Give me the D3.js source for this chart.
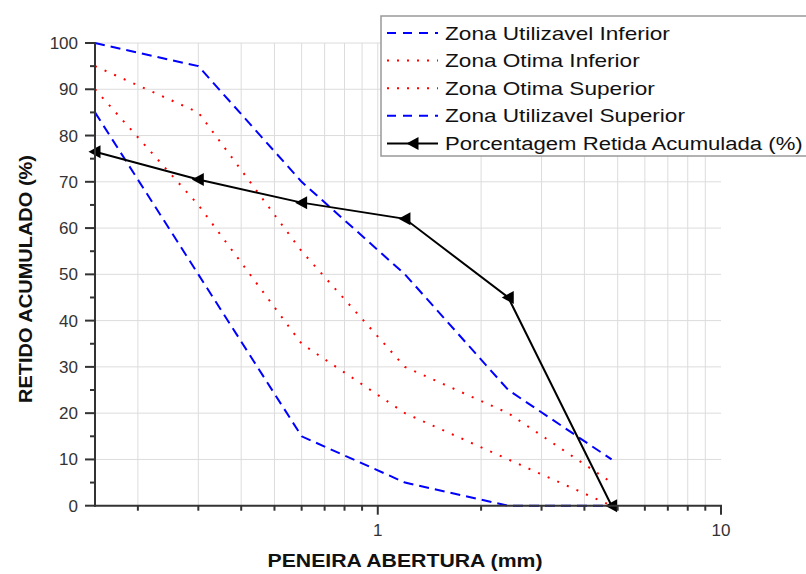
<!DOCTYPE html>
<html>
<head>
<meta charset="utf-8">
<script src="https://cdn.jsdelivr.net/npm/d3@7"></script>
<style>
    body { margin: 0; background: #fff; }
    svg text { font-family: "Liberation Sans", Arial, sans-serif; }
</style>
</head>
<body>
<div id="chart"></div>
<script>
// Sieve openings (mm)
const sieves = [0.15, 0.3, 0.6, 1.2, 2.4, 4.8];

// Limits and measured curve (cumulative retained %)
const utilInferior = [100, 95, 70, 50, 25, 10];
const otimaInferior = [95, 85, 55, 30, 20, 5];
const otimaSuperior = [90, 65, 35, 20, 10, 0];
const utilSuperior = [85, 50, 15, 5, 0, 0];
const retidaAcumulada = [76.5, 70.5, 65.5, 62, 45, 0];

const legendLabels = [
    "Zona Utilizavel Inferior",
    "Zona Otima Inferior",
    "Zona Otima Superior",
    "Zona Utilizavel Superior",
    "Porcentagem Retida Acumulada (%)"
];

const yTicks = [0, 10, 20, 30, 40, 50, 60, 70, 80, 90, 100];
const xGridValues = [0.2, 0.3, 0.4, 0.5, 0.6, 0.7, 0.8, 0.9, 1, 2, 3, 4, 5, 6, 7, 8, 9];
const xLabelValues = [1, 10];

const width = 806;
const height = 574;

const svg = d3.select("#chart")
              .append("svg")
              .attr("width", width)
              .attr("height", height);

const xScale = d3.scaleLog()
                 .domain([0.15, 10])
                 .range([95, 721]);

const yScale = d3.scaleLinear()
                 .domain([0, 100])
                 .range([505.7, 43]);

// Gridlines
const grid = svg.append("g").attr("stroke", "#dcdcdc").attr("stroke-width", 1);
grid.selectAll("line.h")
    .data(yTicks.filter(d => d > 0))
    .enter()
    .append("line")
    .attr("x1", xScale(0.15))
    .attr("x2", xScale(10))
    .attr("y1", d => yScale(d))
    .attr("y2", d => yScale(d));
grid.selectAll("line.v")
    .data(xGridValues)
    .enter()
    .append("line")
    .attr("x1", d => xScale(d))
    .attr("x2", d => xScale(d))
    .attr("y1", yScale(100))
    .attr("y2", yScale(0));

// Series
const line = d3.line()
               .x((d, i) => xScale(sieves[i]))
               .y(d => yScale(d));

const series = [
    { data: utilInferior, color: "#0000ff", dash: "10,6", width: 2 },
    { data: otimaInferior, color: "#ff0000", dash: "2,8.5", width: 2 },
    { data: otimaSuperior, color: "#ff0000", dash: "2,8.5", width: 2 },
    { data: utilSuperior, color: "#0000ff", dash: "10,6", width: 2 }
];

series.forEach(s => {
    svg.append("path")
       .datum(s.data)
       .attr("d", line)
       .attr("fill", "none")
       .attr("stroke", s.color)
       .attr("stroke-width", s.width)
       .attr("stroke-dasharray", s.dash);
});

svg.append("path")
   .datum(retidaAcumulada)
   .attr("d", line)
   .attr("fill", "none")
   .attr("stroke", "#000")
   .attr("stroke-width", 2);

// left-pointing triangle marker
const tri = "M-6.5,0 L5.5,-6.5 L5.5,6.5 Z";
svg.selectAll("path.marker")
   .data(retidaAcumulada)
   .enter()
   .append("path")
   .attr("class", "marker")
   .attr("d", tri)
   .attr("transform", (d, i) => `translate(${xScale(sieves[i])},${yScale(d)})`)
   .attr("fill", "#000");

// Axes
const axisColor = "#333";
const yAxis = svg.append("g");
yAxis.append("line")
     .attr("x1", xScale(0.15)).attr("x2", xScale(0.15))
     .attr("y1", yScale(100) - 1).attr("y2", yScale(0) + 1)
     .attr("stroke", axisColor).attr("stroke-width", 2);
yAxis.selectAll("line.major")
     .data(yTicks)
     .enter()
     .append("line")
     .attr("x1", xScale(0.15) - 10).attr("x2", xScale(0.15))
     .attr("y1", d => yScale(d)).attr("y2", d => yScale(d))
     .attr("stroke", axisColor).attr("stroke-width", 2);
yAxis.selectAll("line.minor")
     .data(d3.range(5, 100, 10))
     .enter()
     .append("line")
     .attr("x1", xScale(0.15) - 5).attr("x2", xScale(0.15))
     .attr("y1", d => yScale(d)).attr("y2", d => yScale(d))
     .attr("stroke", axisColor).attr("stroke-width", 2);
yAxis.selectAll("text")
     .data(yTicks)
     .enter()
     .append("text")
     .attr("x", 78)
     .attr("y", d => yScale(d) + 6)
     .attr("text-anchor", "end")
     .attr("font-size", 17)
     .attr("fill", "#333")
     .text(d => d);

const xAxis = svg.append("g");
xAxis.append("line")
     .attr("x1", xScale(0.15) - 1).attr("x2", xScale(10) + 1)
     .attr("y1", yScale(0)).attr("y2", yScale(0))
     .attr("stroke", axisColor).attr("stroke-width", 2);
xAxis.selectAll("line.tick")
     .data(xGridValues.concat([10]))
     .enter()
     .append("line")
     .attr("x1", d => xScale(d)).attr("x2", d => xScale(d))
     .attr("y1", yScale(0))
     .attr("y2", d => yScale(0) + (xLabelValues.includes(d) ? 9 : 5))
     .attr("stroke", axisColor).attr("stroke-width", 2);
xAxis.selectAll("text")
     .data(xLabelValues)
     .enter()
     .append("text")
     .attr("x", d => xScale(d))
     .attr("y", 536)
     .attr("text-anchor", "middle")
     .attr("font-size", 17)
     .attr("fill", "#333")
     .text(d => d);

// Axis titles
svg.append("text")
   .attr("x", 405)
   .attr("y", 567)
   .attr("text-anchor", "middle")
   .attr("font-size", 19)
   .attr("font-weight", "bold")
   .attr("fill", "#111")
   .attr("textLength", 275)
   .attr("lengthAdjust", "spacingAndGlyphs")
   .text("PENEIRA ABERTURA (mm)");

svg.append("text")
   .attr("transform", "translate(32,279) rotate(-90)")
   .attr("text-anchor", "middle")
   .attr("font-size", 18)
   .attr("font-weight", "bold")
   .attr("fill", "#111")
   .attr("textLength", 248)
   .attr("lengthAdjust", "spacingAndGlyphs")
   .text("RETIDO ACUMULADO (%)");

// Legend
const legend = svg.append("g");
legend.append("rect")
      .attr("x", 381).attr("y", 16)
      .attr("width", 440).attr("height", 140)
      .attr("fill", "#fff")
      .attr("stroke", "#999")
      .attr("stroke-width", 1.5);

const legendStyles = [
    { color: "#0000ff", dash: "9,7" },
    { color: "#ff0000", dash: "2,8" },
    { color: "#ff0000", dash: "2,8" },
    { color: "#0000ff", dash: "9,7" },
    { color: "#000", dash: null }
];

legendLabels.forEach((label, i) => {
    const ly = 33 + i * 27.6;
    const st = legendStyles[i];
    legend.append("line")
          .attr("x1", 387).attr("x2", 438)
          .attr("y1", ly).attr("y2", ly)
          .attr("stroke", st.color)
          .attr("stroke-width", 2)
          .attr("stroke-dasharray", st.dash);
    if (i === 4) {
        legend.append("path")
              .attr("d", tri)
              .attr("transform", `translate(413,${ly})`)
              .attr("fill", "#000");
    }
    const t = legend.append("text")
          .attr("font-size", 19)
          .attr("fill", "#111")
          .text(label);
    // keep the stretched text inside the window
    const w = t.node().getComputedTextLength();
    const sx = Math.min(1.19, (width - 3 - 445) / w);
    t.attr("transform", `translate(445,${ly + 6.5}) scale(${sx},1)`);
});
</script>
</body>
</html>
